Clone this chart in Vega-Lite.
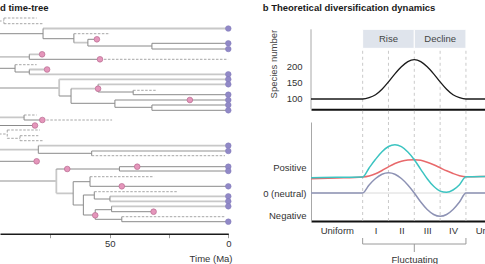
{
  "$schema": "https://vega.github.io/schema/vega-lite/v6.json",
  "padding": {"left": 0, "top": 2, "right": -31, "bottom": 0},
  "background": "white",
  "config": {
    "view": {"stroke": null},
    "font": "Liberation Sans",
    "title": {"fontSize": 9.5, "fontWeight": "bold", "anchor": "start", "color": "#1a1a1a", "font": "Liberation Sans"},
    "axis": {"grid": false, "labelFontSize": 9.5, "titleFontSize": 9.5, "labelColor": "#333", "titleColor": "#444", "titleFontWeight": "normal", "labelFont": "Liberation Sans", "titleFont": "Liberation Sans"}
  },
  "datasets": {
    "segs": [
      {"t":100,"t2":94.6,"y":21,"y2":21,"k":"X"},
      {"t":94.6,"t2":94.6,"y":18,"y2":23.7,"k":"X"},
      {"t":94.6,"t2":80.8,"y":18,"y2":18,"k":"X"},
      {"t":94.6,"t2":78.1,"y":23.7,"y2":23.7,"k":"X"},
      {"t":100,"t2":78.1,"y":33.7,"y2":33.7,"k":"D"},
      {"t":78.1,"t2":78.1,"y":28.5,"y2":38.7,"k":"D"},
      {"t":78.1,"t2":0,"y":28.5,"y2":28.5,"k":"L"},
      {"t":78.1,"t2":65.1,"y":38.7,"y2":38.7,"k":"D"},
      {"t":65.1,"t2":65.1,"y":33.7,"y2":42.7,"k":"D"},
      {"t":65.1,"t2":49.9,"y":33.7,"y2":33.7,"k":"X"},
      {"t":65.1,"t2":59.2,"y":42.7,"y2":42.7,"k":"L"},
      {"t":59.2,"t2":59.2,"y":39.3,"y2":46,"k":"D"},
      {"t":59.2,"t2":55.4,"y":39.3,"y2":39.3,"k":"D"},
      {"t":59.2,"t2":32.2,"y":46,"y2":46,"k":"D"},
      {"t":32.2,"t2":32.2,"y":43.3,"y2":49,"k":"D"},
      {"t":32.2,"t2":0,"y":43.3,"y2":43.3,"k":"D"},
      {"t":32.2,"t2":0,"y":49,"y2":49,"k":"D"},
      {"t":100,"t2":83.9,"y":56.8,"y2":56.8,"k":"L"},
      {"t":83.9,"t2":83.9,"y":54.3,"y2":59.3,"k":"D"},
      {"t":83.9,"t2":78.5,"y":54.3,"y2":54.3,"k":"L"},
      {"t":83.9,"t2":54.1,"y":59.3,"y2":59.3,"k":"D"},
      {"t":54.1,"t2":0,"y":59.3,"y2":59.3,"k":"X"},
      {"t":100,"t2":89.9,"y":68.3,"y2":68.3,"k":"D"},
      {"t":89.9,"t2":89.9,"y":64.7,"y2":72,"k":"D"},
      {"t":89.9,"t2":80.8,"y":64.7,"y2":64.7,"k":"X"},
      {"t":89.9,"t2":83.9,"y":72,"y2":72,"k":"D"},
      {"t":83.9,"t2":83.9,"y":69.5,"y2":74.3,"k":"D"},
      {"t":83.9,"t2":76.4,"y":69.5,"y2":69.5,"k":"L"},
      {"t":83.9,"t2":0,"y":74.3,"y2":74.3,"k":"L"},
      {"t":100,"t2":71.3,"y":88,"y2":88,"k":"L"},
      {"t":71.3,"t2":71.3,"y":79.3,"y2":96,"k":"L"},
      {"t":71.3,"t2":0,"y":79.3,"y2":79.3,"k":"L"},
      {"t":71.3,"t2":66.3,"y":96,"y2":96,"k":"D"},
      {"t":66.3,"t2":66.3,"y":88.7,"y2":103.3,"k":"D"},
      {"t":66.3,"t2":54.9,"y":88.7,"y2":88.7,"k":"L"},
      {"t":54.9,"t2":54.9,"y":84.3,"y2":92,"k":"D"},
      {"t":54.9,"t2":0,"y":84.3,"y2":84.3,"k":"L"},
      {"t":54.9,"t2":40.1,"y":92,"y2":92,"k":"D"},
      {"t":40.1,"t2":40.1,"y":90.3,"y2":94.7,"k":"D"},
      {"t":40.1,"t2":30.6,"y":90.3,"y2":90.3,"k":"X"},
      {"t":40.1,"t2":0,"y":94.7,"y2":94.7,"k":"D"},
      {"t":66.3,"t2":47.8,"y":103.3,"y2":103.3,"k":"D"},
      {"t":47.8,"t2":47.8,"y":100,"y2":107.3,"k":"D"},
      {"t":47.8,"t2":0,"y":100,"y2":100,"k":"D"},
      {"t":47.8,"t2":32.2,"y":107.3,"y2":107.3,"k":"D"},
      {"t":32.2,"t2":32.2,"y":105,"y2":110.3,"k":"D"},
      {"t":32.2,"t2":0,"y":105,"y2":105,"k":"D"},
      {"t":32.2,"t2":0,"y":110.3,"y2":110.3,"k":"D"},
      {"t":100,"t2":86.1,"y":117.3,"y2":117.3,"k":"L"},
      {"t":86.1,"t2":86.1,"y":115,"y2":120,"k":"D"},
      {"t":86.1,"t2":80.8,"y":115,"y2":115,"k":"X"},
      {"t":86.1,"t2":78.4,"y":120,"y2":120,"k":"D"},
      {"t":78.4,"t2":49,"y":120,"y2":120,"k":"X"},
      {"t":100,"t2":81.5,"y":125.5,"y2":125.5,"k":"D"},
      {"t":100,"t2":93.2,"y":134,"y2":134,"k":"X"},
      {"t":93.2,"t2":93.2,"y":130,"y2":138.3,"k":"X"},
      {"t":93.2,"t2":79.4,"y":130,"y2":130,"k":"X"},
      {"t":93.2,"t2":87.8,"y":138.3,"y2":138.3,"k":"X"},
      {"t":87.8,"t2":87.8,"y":135.7,"y2":140.7,"k":"X"},
      {"t":87.8,"t2":80.1,"y":135.7,"y2":135.7,"k":"X"},
      {"t":87.8,"t2":78,"y":140.7,"y2":140.7,"k":"X"},
      {"t":100,"t2":80.1,"y":149.7,"y2":149.7,"k":"L"},
      {"t":80.1,"t2":80.1,"y":145.7,"y2":153.3,"k":"D"},
      {"t":80.1,"t2":0,"y":145.7,"y2":145.7,"k":"L"},
      {"t":80.1,"t2":57.6,"y":153.3,"y2":153.3,"k":"D"},
      {"t":57.6,"t2":57.6,"y":151,"y2":155.7,"k":"D"},
      {"t":57.6,"t2":0,"y":151,"y2":151,"k":"L"},
      {"t":57.6,"t2":1.4,"y":155.7,"y2":155.7,"k":"X"},
      {"t":100,"t2":80.8,"y":161.3,"y2":161.3,"k":"D"},
      {"t":100,"t2":72.5,"y":181,"y2":181,"k":"L"},
      {"t":72.5,"t2":72.5,"y":169,"y2":193.3,"k":"L"},
      {"t":72.5,"t2":45.9,"y":169,"y2":169,"k":"D"},
      {"t":45.9,"t2":45.9,"y":166.7,"y2":171,"k":"D"},
      {"t":45.9,"t2":0,"y":166.7,"y2":166.7,"k":"D"},
      {"t":45.9,"t2":0,"y":171,"y2":171,"k":"D"},
      {"t":72.5,"t2":65.4,"y":193.3,"y2":193.3,"k":"L"},
      {"t":65.4,"t2":65.4,"y":181.7,"y2":205,"k":"D"},
      {"t":65.4,"t2":58.3,"y":181.7,"y2":181.7,"k":"D"},
      {"t":58.3,"t2":58.3,"y":176.7,"y2":186.3,"k":"D"},
      {"t":58.3,"t2":31.3,"y":176.7,"y2":176.7,"k":"X"},
      {"t":58.3,"t2":0,"y":186.3,"y2":186.3,"k":"D"},
      {"t":65.4,"t2":61.1,"y":205,"y2":205,"k":"L"},
      {"t":61.1,"t2":61.1,"y":195,"y2":215,"k":"D"},
      {"t":61.1,"t2":56.5,"y":195,"y2":195,"k":"D"},
      {"t":56.5,"t2":56.5,"y":191.7,"y2":199,"k":"D"},
      {"t":56.5,"t2":21.5,"y":191.7,"y2":191.7,"k":"X"},
      {"t":56.5,"t2":49.9,"y":199,"y2":199,"k":"D"},
      {"t":49.9,"t2":49.9,"y":196.3,"y2":201.3,"k":"D"},
      {"t":49.9,"t2":0,"y":196.3,"y2":196.3,"k":"L"},
      {"t":49.9,"t2":0,"y":201.3,"y2":201.3,"k":"L"},
      {"t":61.1,"t2":56.1,"y":215,"y2":215,"k":"D"},
      {"t":56.1,"t2":56.1,"y":209.7,"y2":219.3,"k":"D"},
      {"t":56.1,"t2":49.2,"y":209.7,"y2":209.7,"k":"D"},
      {"t":49.2,"t2":49.2,"y":206.3,"y2":211.7,"k":"D"},
      {"t":49.2,"t2":0,"y":206.3,"y2":206.3,"k":"L"},
      {"t":49.2,"t2":31.5,"y":211.7,"y2":211.7,"k":"D"},
      {"t":56.1,"t2":44.9,"y":219.3,"y2":219.3,"k":"D"},
      {"t":44.9,"t2":44.9,"y":216.7,"y2":221.7,"k":"D"},
      {"t":44.9,"t2":1.4,"y":216.7,"y2":216.7,"k":"X"},
      {"t":44.9,"t2":0,"y":221.7,"y2":221.7,"k":"D"}
    ],
    "nodes": [
      {"t":55.4,"y":39.3,"k":"F"},{"t":78.5,"y":54.3,"k":"F"},{"t":54.1,"y":59.3,"k":"F"},
      {"t":76.4,"y":69.5,"k":"F"},{"t":54.9,"y":88.7,"k":"F"},{"t":16.2,"y":100,"k":"F"},
      {"t":78.4,"y":120,"k":"F"},{"t":81.5,"y":125.5,"k":"F"},{"t":80.8,"y":161.3,"k":"F"},
      {"t":67.9,"y":169,"k":"F"},{"t":38.4,"y":166.7,"k":"F"},{"t":44.9,"y":186.3,"k":"F"},
      {"t":31.5,"y":211.7,"k":"F"},{"t":56.1,"y":215.3,"k":"F"},
      {"t":0,"y":28.5,"k":"T"},{"t":0,"y":43.3,"k":"T"},{"t":0,"y":49,"k":"T"},
      {"t":0,"y":74.3,"k":"T"},{"t":0,"y":79.3,"k":"T"},{"t":0,"y":84.3,"k":"T"},
      {"t":0,"y":94.7,"k":"T"},{"t":0,"y":100,"k":"T"},{"t":0,"y":105,"k":"T"},
      {"t":0,"y":110.3,"k":"T"},{"t":0,"y":145.7,"k":"T"},{"t":0,"y":151,"k":"T"},
      {"t":0,"y":166.7,"k":"T"},{"t":0,"y":171,"k":"T"},{"t":0,"y":186.3,"k":"T"},
      {"t":0,"y":196.3,"k":"T"},{"t":0,"y":201.3,"k":"T"},{"t":0,"y":206.3,"k":"T"},
      {"t":0,"y":221.7,"k":"T"}
    ],
    "bands": [
      {"p":0,"p2":2,"mid":1,"label":"Rise"},
      {"p":2,"p2":4,"mid":3,"label":"Decline"}
    ],
    "phases": [{"p":0},{"p":1},{"p":2},{"p":3},{"p":4}],
    "species": [
      {"p":-2,"v":100},{"p":-1,"v":100},{"p":0,"v":100},{"p":0.25,"v":104},{"p":0.5,"v":113},
      {"p":0.75,"v":130},{"p":1,"v":153},{"p":1.25,"v":178},{"p":1.5,"v":200},{"p":1.75,"v":216},
      {"p":2,"v":222},{"p":2.25,"v":216},{"p":2.5,"v":200},{"p":2.75,"v":178},{"p":3,"v":153},
      {"p":3.25,"v":130},{"p":3.5,"v":113},{"p":3.75,"v":104},{"p":4,"v":100},{"p":5,"v":100},{"p":6,"v":100}
    ],
    "neutral": [{"p":-2,"p2":6,"v":0}],
    "sel": [
      {"s":"grey","p":-2,"v":0},{"s":"grey","p":0,"v":0},{"s":"grey","p":0.25,"v":0.8},{"s":"grey","p":0.5,"v":1.45},
      {"s":"grey","p":0.75,"v":1.88},{"s":"grey","p":1,"v":2.03},{"s":"grey","p":1.25,"v":1.88},{"s":"grey","p":1.5,"v":1.45},
      {"s":"grey","p":1.75,"v":0.8},{"s":"grey","p":2,"v":0},{"s":"grey","p":2.25,"v":-0.9},{"s":"grey","p":2.5,"v":-1.65},
      {"s":"grey","p":2.75,"v":-2.15},{"s":"grey","p":3,"v":-2.33},{"s":"grey","p":3.25,"v":-2.15},{"s":"grey","p":3.5,"v":-1.65},
      {"s":"grey","p":3.75,"v":-0.9},{"s":"grey","p":4,"v":0},{"s":"grey","p":6,"v":0},
      {"s":"red","p":-2,"v":1.43},{"s":"red","p":-1,"v":1.5},{"s":"red","p":0,"v":1.6},{"s":"red","p":0.25,"v":1.7},
      {"s":"red","p":0.5,"v":1.92},{"s":"red","p":0.75,"v":2.25},{"s":"red","p":1,"v":2.62},{"s":"red","p":1.25,"v":2.95},
      {"s":"red","p":1.5,"v":3.18},{"s":"red","p":1.75,"v":3.3},{"s":"red","p":2,"v":3.33},{"s":"red","p":2.25,"v":3.27},
      {"s":"red","p":2.5,"v":3.08},{"s":"red","p":2.75,"v":2.82},{"s":"red","p":3,"v":2.52},{"s":"red","p":3.25,"v":2.22},
      {"s":"red","p":3.5,"v":1.95},{"s":"red","p":3.75,"v":1.73},{"s":"red","p":4,"v":1.62},{"s":"red","p":5,"v":1.66},{"s":"red","p":6,"v":1.67},
      {"s":"teal","p":-2,"v":1.53},{"s":"teal","p":-1,"v":1.57},{"s":"teal","p":0,"v":1.6},{"s":"teal","p":0.25,"v":2.5},
      {"s":"teal","p":0.5,"v":3.37},{"s":"teal","p":0.75,"v":4.13},{"s":"teal","p":1,"v":4.65},{"s":"teal","p":1.25,"v":4.83},
      {"s":"teal","p":1.5,"v":4.63},{"s":"teal","p":1.75,"v":4.1},{"s":"teal","p":2,"v":3.33},{"s":"teal","p":2.25,"v":2.37},
      {"s":"teal","p":2.5,"v":1.43},{"s":"teal","p":2.75,"v":0.67},{"s":"teal","p":3,"v":0.19},{"s":"teal","p":3.25,"v":0.07},
      {"s":"teal","p":3.5,"v":0.3},{"s":"teal","p":3.75,"v":0.83},{"s":"teal","p":4,"v":1.62},{"s":"teal","p":5,"v":1.66},{"s":"teal","p":6,"v":1.67}
    ],
    "bracket": [
      {"p":0,"p2":4,"v":-5.1,"v2":-5.1},
      {"p":0,"p2":0,"v":-4.5,"v2":-5.1},
      {"p":4,"p2":4,"v":-4.5,"v2":-5.1},
      {"p":2,"p2":2,"v":-5.1,"v2":-5.9}
    ]
  },
  "spacing": 29,
  "hconcat": [
    {
      "width": 228.3,
      "height": 219.7,
      "title": {"text": "d time-tree", "offset": 2},
      "encoding": {
        "x": {"field": "t", "type": "quantitative",
              "scale": {"domain": [96.25, 0], "nice": false, "zero": false},
              "axis": {"values": [75, 50, 25, 0], "labelExpr": "datum.value == 50 || datum.value == 0 ? datum.label : ''",
                       "labelFlush": false, "labelOverlap": false, "tickColor": "#9a9a9a", "tickSize": 4,
                       "domainColor": "#1a1a1a", "domainWidth": 1.5, "labelPadding": 1,
                       "title": "Time (Ma)", "titleX": 232, "titleY": 24.5, "titleAlign": "right", "titleBaseline": "middle", "titleColor": "#333"}},
        "y": {"field": "y", "type": "quantitative",
              "scale": {"domain": [14, 233.7], "reverse": true, "nice": false, "zero": false}, "axis": null}
      },
      "layer": [
        {"data": {"name": "segs"}, "transform": [{"filter": "datum.k === 'L'"}],
         "mark": {"type": "rule", "clip": true, "color": "#c8c8c8", "strokeWidth": 1.8},
         "encoding": {"x2": {"field": "t2"}, "y2": {"field": "y2"}}},
        {"data": {"name": "segs"}, "transform": [{"filter": "datum.k === 'D'"}],
         "mark": {"type": "rule", "clip": true, "color": "#8a8a8a", "strokeWidth": 1},
         "encoding": {"x2": {"field": "t2"}, "y2": {"field": "y2"}}},
        {"data": {"name": "segs"}, "transform": [{"filter": "datum.k === 'X'"}],
         "mark": {"type": "rule", "clip": true, "color": "#9d9d9d", "strokeWidth": 0.9, "strokeDash": [2.5, 1.5]},
         "encoding": {"x2": {"field": "t2"}, "y2": {"field": "y2"}}},
        {"data": {"name": "nodes"}, "transform": [{"filter": "datum.k === 'F'"}],
         "mark": {"type": "circle", "size": 32, "fill": "#e596bb", "stroke": "#b86c90", "strokeWidth": 0.7, "opacity": 1}},
        {"data": {"name": "nodes"}, "transform": [{"filter": "datum.k === 'T'"}],
         "mark": {"type": "circle", "size": 32, "fill": "#9189c7", "stroke": "#8179b9", "strokeWidth": 0.5, "opacity": 1}}
      ]
    },
    {
      "title": {"text": "b   Theoretical diversification dynamics", "offset": 2},
      "spacing": 0,
      "vconcat": [
        {
          "width": 206.6,
          "height": 95.3,
          "layer": [
            {"data": {"values": [{}]}, "mark": {"type": "rule", "color": "#a8a8a8", "strokeWidth": 1},
             "encoding": {
               "x": {"datum": -2, "type": "quantitative", "scale": {"domain": [-2, 6], "nice": false, "zero": false},
                     "axis": {"labels": false, "ticks": false, "title": null, "domainColor": "#111", "domainWidth": 2}},
               "y": {"datum": 68, "type": "quantitative", "scale": {"domain": [68, 363.5], "nice": false, "zero": false},
                     "axis": {"values": [100, 150, 200], "ticks": false, "labelPadding": 9, "domain": false,
                              "title": "Species number", "titleAnchor": "end", "titleY": 15.3, "titlePadding": 8}},
               "y2": {"datum": 316}}},
            {"data": {"name": "bands"}, "mark": {"type": "rect", "fill": "#dfe4ec", "stroke": "white", "strokeWidth": 1},
             "encoding": {
               "x": {"field": "p", "type": "quantitative", "scale": {"domain": [-2, 6], "nice": false, "zero": false},
                     "axis": {"labels": false, "ticks": false, "title": null, "domainColor": "#111", "domainWidth": 2}},
               "x2": {"field": "p2"},
               "y": {"datum": 257, "type": "quantitative", "scale": {"domain": [68, 363.5], "nice": false, "zero": false},
                     "axis": {"values": [100, 150, 200], "ticks": false, "labelPadding": 9, "domain": false,
                              "title": "Species number", "titleAnchor": "end", "titleY": 15.3, "titlePadding": 8}},
               "y2": {"datum": 316}}},
            {"data": {"name": "bands"}, "mark": {"type": "text", "fontSize": 9.5, "color": "#444", "font": "Liberation Sans"},
             "encoding": {
               "x": {"field": "mid", "type": "quantitative", "scale": {"domain": [-2, 6], "nice": false, "zero": false},
                     "axis": {"labels": false, "ticks": false, "title": null, "domainColor": "#111", "domainWidth": 2}},
               "y": {"datum": 287, "type": "quantitative", "scale": {"domain": [68, 363.5], "nice": false, "zero": false},
                     "axis": {"values": [100, 150, 200], "ticks": false, "labelPadding": 9, "domain": false,
                              "title": "Species number", "titleAnchor": "end", "titleY": 15.3, "titlePadding": 8}},
               "text": {"field": "label"}}},
            {"data": {"name": "phases"}, "mark": {"type": "rule", "color": "#bdbdbd", "strokeWidth": 0.8, "strokeDash": [3, 3]},
             "encoding": {
               "x": {"field": "p", "type": "quantitative", "scale": {"domain": [-2, 6], "nice": false, "zero": false},
                     "axis": {"labels": false, "ticks": false, "title": null, "domainColor": "#111", "domainWidth": 2}},
               "y": {"datum": 35.5, "type": "quantitative", "scale": {"domain": [68, 363.5], "nice": false, "zero": false},
                     "axis": {"values": [100, 150, 200], "ticks": false, "labelPadding": 9, "domain": false,
                              "title": "Species number", "titleAnchor": "end", "titleY": 15.3, "titlePadding": 8}},
               "y2": {"datum": 257}}},
            {"data": {"name": "species"}, "mark": {"type": "line", "color": "#1a1a1a", "strokeWidth": 1.3, "interpolate": "monotone"},
             "encoding": {
               "x": {"field": "p", "type": "quantitative", "scale": {"domain": [-2, 6], "nice": false, "zero": false},
                     "axis": {"labels": false, "ticks": false, "title": null, "domainColor": "#111", "domainWidth": 2}},
               "y": {"field": "v", "type": "quantitative", "scale": {"domain": [68, 363.5], "nice": false, "zero": false},
                     "axis": {"values": [100, 150, 200], "ticks": false, "labelPadding": 9, "domain": false,
                              "title": "Species number", "titleAnchor": "end", "titleY": 15.3, "titlePadding": 8}}}}
          ]
        },
        {
          "width": 206.6,
          "height": 99,
          "layer": [
            {"data": {"name": "neutral"}, "mark": {"type": "rule", "color": "#dadada", "strokeWidth": 1},
             "encoding": {
               "x": {"field": "p", "type": "quantitative", "scale": {"domain": [-2, 6], "nice": false, "zero": false},
                     "axis": {"values": [-1, 0.5, 1.5, 2.5, 3.5, 5],
                              "labelExpr": "datum.value == 0.5 ? 'I' : datum.value == 1.5 ? 'II' : datum.value == 2.5 ? 'III' : datum.value == 3.5 ? 'IV' : 'Uniform'",
                              "ticks": false, "labelPadding": 4, "labelFlush": false, "labelOverlap": false,
                              "domainColor": "#111", "domainWidth": 2, "title": "Fluctuating", "titlePadding": 20, "titleColor": "#333"}},
               "x2": {"field": "p2"},
               "y": {"field": "v", "type": "quantitative", "scale": {"domain": [-2.8, 7.1], "nice": false, "zero": false},
                     "axis": {"values": [2.53, 0, -2.27],
                              "labelExpr": "datum.value > 1 ? 'Positive' : datum.value < -1 ? 'Negative' : '0 (neutral)'",
                              "ticks": false, "labelPadding": 5, "domainColor": "#a8a8a8", "domainWidth": 1, "title": null}}}},
            {"data": {"name": "phases"}, "mark": {"type": "rule", "color": "#bdbdbd", "strokeWidth": 0.8, "strokeDash": [3, 3]},
             "encoding": {
               "x": {"field": "p", "type": "quantitative", "scale": {"domain": [-2, 6], "nice": false, "zero": false},
                     "axis": {"values": [-1, 0.5, 1.5, 2.5, 3.5, 5],
                              "labelExpr": "datum.value == 0.5 ? 'I' : datum.value == 1.5 ? 'II' : datum.value == 2.5 ? 'III' : datum.value == 3.5 ? 'IV' : 'Uniform'",
                              "ticks": false, "labelPadding": 4, "labelFlush": false, "labelOverlap": false,
                              "domainColor": "#111", "domainWidth": 2, "title": "Fluctuating", "titlePadding": 20, "titleColor": "#333"}},
               "y": {"datum": -2.8, "type": "quantitative", "scale": {"domain": [-2.8, 7.1], "nice": false, "zero": false},
                     "axis": {"values": [2.53, 0, -2.27],
                              "labelExpr": "datum.value > 1 ? 'Positive' : datum.value < -1 ? 'Negative' : '0 (neutral)'",
                              "ticks": false, "labelPadding": 5, "domainColor": "#a8a8a8", "domainWidth": 1, "title": null}},
               "y2": {"datum": 7.1}}},
            {"data": {"name": "bracket"}, "mark": {"type": "rule", "color": "#9a9a9a", "strokeWidth": 1},
             "encoding": {
               "x": {"field": "p", "type": "quantitative", "scale": {"domain": [-2, 6], "nice": false, "zero": false},
                     "axis": {"values": [-1, 0.5, 1.5, 2.5, 3.5, 5],
                              "labelExpr": "datum.value == 0.5 ? 'I' : datum.value == 1.5 ? 'II' : datum.value == 2.5 ? 'III' : datum.value == 3.5 ? 'IV' : 'Uniform'",
                              "ticks": false, "labelPadding": 4, "labelFlush": false, "labelOverlap": false,
                              "domainColor": "#111", "domainWidth": 2, "title": "Fluctuating", "titlePadding": 20, "titleColor": "#333"}},
               "x2": {"field": "p2"},
               "y": {"field": "v", "type": "quantitative", "scale": {"domain": [-2.8, 7.1], "nice": false, "zero": false},
                     "axis": {"values": [2.53, 0, -2.27],
                              "labelExpr": "datum.value > 1 ? 'Positive' : datum.value < -1 ? 'Negative' : '0 (neutral)'",
                              "ticks": false, "labelPadding": 5, "domainColor": "#a8a8a8", "domainWidth": 1, "title": null}},
               "y2": {"field": "v2"}}},
            {"data": {"name": "sel"}, "mark": {"type": "line", "strokeWidth": 1.5, "interpolate": "monotone"},
             "encoding": {
               "x": {"field": "p", "type": "quantitative", "scale": {"domain": [-2, 6], "nice": false, "zero": false},
                     "axis": {"values": [-1, 0.5, 1.5, 2.5, 3.5, 5],
                              "labelExpr": "datum.value == 0.5 ? 'I' : datum.value == 1.5 ? 'II' : datum.value == 2.5 ? 'III' : datum.value == 3.5 ? 'IV' : 'Uniform'",
                              "ticks": false, "labelPadding": 4, "labelFlush": false, "labelOverlap": false,
                              "domainColor": "#111", "domainWidth": 2, "title": "Fluctuating", "titlePadding": 20, "titleColor": "#333"}},
               "y": {"field": "v", "type": "quantitative", "scale": {"domain": [-2.8, 7.1], "nice": false, "zero": false},
                     "axis": {"values": [2.53, 0, -2.27],
                              "labelExpr": "datum.value > 1 ? 'Positive' : datum.value < -1 ? 'Negative' : '0 (neutral)'",
                              "ticks": false, "labelPadding": 5, "domainColor": "#a8a8a8", "domainWidth": 1, "title": null}},
               "color": {"field": "s", "type": "nominal",
                         "scale": {"domain": ["grey", "red", "teal"], "range": ["#8d92b4", "#e8696b", "#3cc4c1"]},
                         "legend": null}}}
          ]
        }
      ]
    }
  ]
}
